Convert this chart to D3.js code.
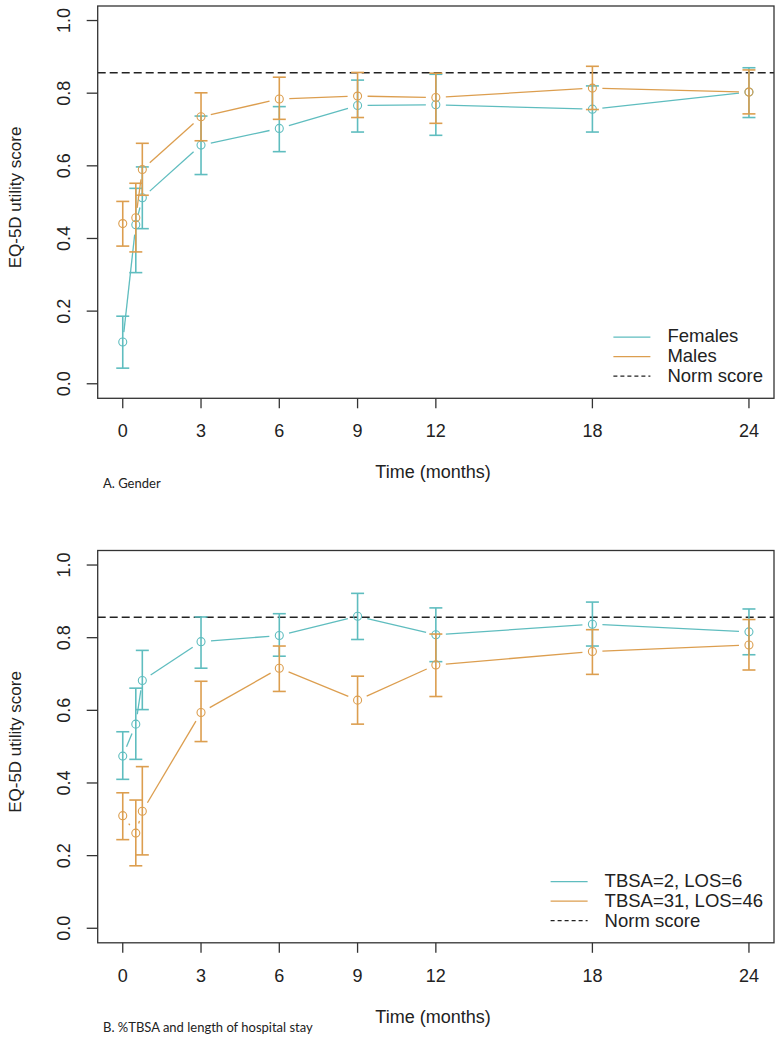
<!DOCTYPE html>
<html>
<head>
<meta charset="utf-8">
<script src="https://cdn.jsdelivr.net/npm/d3@7"></script>
<style>
  body { margin: 0; background: #fff; }
  text { font-family: "Liberation Sans", Arial, sans-serif; fill: #222; }
</style>
</head>
<body>
<svg id="chart" width="782" height="1048"></svg>
<script>
// time points (months)
const times = [0, 0.5, 0.75, 3, 6, 9, 12, 18, 24];
const xTicks = [0, 3, 6, 9, 12, 18, 24];
const yTicks = [0, 0.2, 0.4, 0.6, 0.8, 1.0];
const normScore = 0.856;

// A. Gender
const femMean = [0.115, 0.438, 0.512, 0.657, 0.703, 0.766, 0.768, 0.756, 0.803];
const femLo   = [0.043, 0.306, 0.427, 0.576, 0.639, 0.693, 0.684, 0.693, 0.733];
const femHi   = [0.186, 0.538, 0.597, 0.737, 0.763, 0.836, 0.852, 0.820, 0.870];
const maleMean = [0.441, 0.457, 0.590, 0.735, 0.784, 0.792, 0.788, 0.814, 0.803];
const maleLo   = [0.379, 0.363, 0.519, 0.669, 0.728, 0.733, 0.717, 0.755, 0.743];
const maleHi   = [0.502, 0.552, 0.662, 0.801, 0.844, 0.857, 0.855, 0.874, 0.864];

// B. %TBSA and length of hospital stay
const smallMean = [0.474, 0.562, 0.682, 0.789, 0.806, 0.859, 0.808, 0.837, 0.816];
const smallLo   = [0.410, 0.465, 0.602, 0.716, 0.749, 0.795, 0.734, 0.777, 0.753];
const smallHi   = [0.541, 0.661, 0.765, 0.857, 0.866, 0.922, 0.882, 0.898, 0.879];
const largeMean = [0.310, 0.262, 0.322, 0.594, 0.716, 0.628, 0.725, 0.762, 0.780];
const largeLo   = [0.244, 0.172, 0.202, 0.514, 0.652, 0.562, 0.638, 0.699, 0.711];
const largeHi   = [0.373, 0.353, 0.445, 0.680, 0.777, 0.694, 0.810, 0.822, 0.850];

const teal = "#5fbdbf";
const orange = "#dc9e4f";

const svg = d3.select("#chart");
svg.append("rect").attr("width", 782).attr("height", 1048).attr("fill", "#fff");

function panel(oy, series, legendLabels, caption) {
  const left = 97.7, right = 774, top = 6 + oy, bottom = 398.3 + oy;
  const x = d3.scaleLinear().domain([-0.96, 24.96]).range([left, right]);
  const y = d3.scaleLinear().domain([-0.04, 1.04]).range([bottom, top]);
  const g = svg.append("g");

  // norm line
  g.append("line")
    .attr("x1", left).attr("x2", right)
    .attr("y1", y(normScore)).attr("y2", y(normScore))
    .attr("stroke", "#222").attr("stroke-width", 1.5)
    .attr("stroke-dasharray", "8,4");

  // series: lines with gaps (type "b"), error bars, open circles
  const gap = 10;
  series.forEach(s => {
    const pts = times.map((t, i) => [x(t), y(s.mean[i])]);
    for (let i = 0; i < pts.length - 1; i++) {
      const [x1, y1] = pts[i], [x2, y2] = pts[i + 1];
      const d = Math.hypot(x2 - x1, y2 - y1);
      if (d <= 2 * gap) continue;
      const ux = (x2 - x1) / d, uy = (y2 - y1) / d;
      g.append("line")
        .attr("x1", x1 + ux * gap).attr("y1", y1 + uy * gap)
        .attr("x2", x2 - ux * gap).attr("y2", y2 - uy * gap)
        .attr("stroke", s.color).attr("stroke-width", 1.3);
    }
    const eb = g.selectAll(null).data(times).enter().append("g");
    eb.append("line")
      .attr("x1", d => x(d)).attr("x2", d => x(d))
      .attr("y1", (d, i) => y(s.lo[i])).attr("y2", (d, i) => y(s.hi[i]))
      .attr("stroke", s.color).attr("stroke-width", 1.6);
    [s.lo, s.hi].forEach(arr => {
      eb.append("line")
        .attr("x1", d => x(d) - 6.5).attr("x2", d => x(d) + 6.5)
        .attr("y1", (d, i) => y(arr[i])).attr("y2", (d, i) => y(arr[i]))
        .attr("stroke", s.color).attr("stroke-width", 1.6);
    });
    g.selectAll(null).data(times).enter().append("circle")
      .attr("cx", d => x(d)).attr("cy", (d, i) => y(s.mean[i]))
      .attr("r", 4).attr("fill", "none")
      .attr("stroke", s.color).attr("stroke-width", 1.1);
  });

  // frame
  g.append("rect")
    .attr("x", left).attr("y", top)
    .attr("width", right - left).attr("height", bottom - top)
    .attr("fill", "none").attr("stroke", "#333").attr("stroke-width", 1.3);

  // x axis
  g.selectAll(null).data(xTicks).enter().append("line")
    .attr("x1", d => x(d)).attr("x2", d => x(d))
    .attr("y1", bottom).attr("y2", bottom + 10)
    .attr("stroke", "#333").attr("stroke-width", 1.3);
  g.selectAll(null).data(xTicks).enter().append("text")
    .attr("x", d => x(d)).attr("y", 437.3 + oy)
    .attr("text-anchor", "middle").style("font-size", "18px")
    .text(d => d);
  g.append("text")
    .attr("x", 433).attr("y", 478.3 + oy)
    .attr("text-anchor", "middle").style("font-size", "18px")
    .text("Time (months)");

  // y axis
  g.selectAll(null).data(yTicks).enter().append("line")
    .attr("x1", left - 11).attr("x2", left)
    .attr("y1", d => y(d)).attr("y2", d => y(d))
    .attr("stroke", "#333").attr("stroke-width", 1.3);
  g.selectAll(null).data(yTicks).enter().append("text")
    .attr("transform", d => `translate(70,${y(d)}) rotate(-90)`)
    .attr("text-anchor", "middle").style("font-size", "18px")
    .text(d => d.toFixed(1));
  g.append("text")
    .attr("transform", `translate(21,${197.5 + oy}) rotate(-90)`)
    .attr("text-anchor", "middle").style("font-size", "17px")
    .text("EQ-5D utility score");

  // legend (bottom right, no box)
  const items = [
    { label: legendLabels[0], color: teal, dash: null },
    { label: legendLabels[1], color: orange, dash: null },
    { label: "Norm score", color: "#222", dash: "4,3" }
  ];
  const lg = g.append("g");
  const texts = lg.selectAll(null).data(items).enter().append("text")
    .attr("y", (d, i) => 342.3 + oy + i * 20)
    .style("font-size", "18.5px")
    .text(d => d.label);
  let maxW = 0;
  texts.each(function () { maxW = Math.max(maxW, this.getComputedTextLength()); });
  const tx = 763 - maxW;
  texts.attr("x", tx);
  lg.selectAll(null).data(items).enter().append("line")
    .attr("x1", tx - 54).attr("x2", tx - 17)
    .attr("y1", (d, i) => 337.2 + oy + i * 19.5).attr("y2", (d, i) => 337.2 + oy + i * 19.5)
    .attr("stroke", d => d.color).attr("stroke-width", 1.3)
    .attr("stroke-dasharray", d => d.dash);

  // caption
  g.append("text")
    .attr("x", 103).attr("y", 487.5 + oy)
    .style("font-family", "Lato, 'Open Sans', sans-serif")
    .style("font-size", "13px")
    .text(caption);
}

panel(0, [
  { mean: femMean, lo: femLo, hi: femHi, color: teal },
  { mean: maleMean, lo: maleLo, hi: maleHi, color: orange }
], ["Females", "Males"], "A. Gender");

panel(544.5, [
  { mean: smallMean, lo: smallLo, hi: smallHi, color: teal },
  { mean: largeMean, lo: largeLo, hi: largeHi, color: orange }
], ["TBSA=2, LOS=6", "TBSA=31, LOS=46"], "B. %TBSA and length of hospital stay");
</script>
</body>
</html>
